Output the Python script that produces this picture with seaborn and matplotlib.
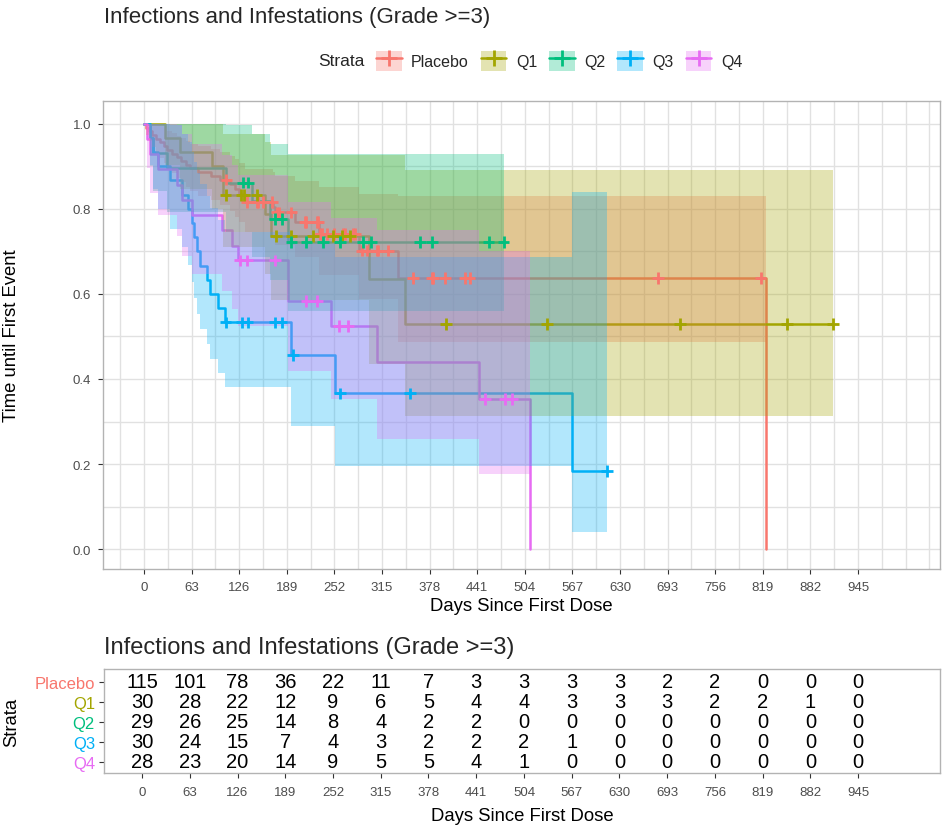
import numpy as np
import pandas as pd
import matplotlib
matplotlib.use("Agg")
import matplotlib.pyplot as plt
from matplotlib.patches import Patch
from matplotlib.lines import Line2D
from matplotlib.legend_handler import HandlerTuple
import seaborn as sns

nan = np.nan

strata = ["Placebo", "Q1", "Q2", "Q3", "Q4"]
strata_colors = ["#F8766D", "#A3A500", "#00BF7D", "#00B0F6", "#E76BF3"]

# Kaplan-Meier steps: start day of each level, survival level, 95% band, censored days
placebo_time = [0, 3, 7, 11, 16, 21, 26, 31, 37, 43, 49, 55, 61, 72, 88, 100,
                114, 120, 126, 133, 171, 174, 200, 231, 285, 336, 823]
placebo_surv = [1.0, .991, .983, .974, .965, .957, .948, .939, .930, .922, .913, .904,
                .896, .887, .878, .869, .858, .847, .836, .816, .804, .792, .770,
                .741, .702, .638, 0.0]
placebo_lower = [1.0, .974, .959, .945, .932, .920, .908, .896, .885, .874, .863, .852,
                 .842, .831, .821, .810, .796, .782, .769, .745, .730, .715, .686,
                 .645, .589, .488, nan]
placebo_upper = [1.0, 1.0, 1.0, 1.0, 1.0, .995, .990, .984, .978, .972, .966, .959,
                 .953, .947, .940, .933, .925, .917, .909, .894, .886, .877, .865,
                 .852, .836, .831, nan]
placebo_cens = [109, 136, 149, 151, 158, 169, 176, 178, 195, 213, 215, 229, 230,
                233, 235, 242, 251, 264, 266, 277, 279, 288, 295, 308, 310, 323,
                356, 381, 383, 398, 425, 431, 680, 816]

q1_time = [0, 28, 48, 90, 105, 160, 168, 298, 345]
q1_surv = [1.0, .967, .933, .900, .833, .787, .737, .635, .529]
q1_lower = [1.0, .903, .848, .799, .710, .648, .587, .435, .314]
q1_upper = [1.0, 1.0, 1.0, 1.0, .977, .957, .926, .927, .891]
q1_cens = [108, 129, 132, 149, 175, 195, 224, 250, 262, 273, 400, 533, 709, 851, 912]

q2_time = [0, 8, 12, 30, 108, 143, 167, 190]
q2_surv = [1.0, .966, .931, .897, .862, .819, .776, .722]
q2_lower = [1.0, .902, .843, .792, .745, .686, .632, .561]
q2_upper = [1.0, 1.0, 1.0, 1.0, .997, .977, .953, .929]
q2_cens = [131, 138, 173, 182, 195, 215, 237, 259, 290, 301, 365, 381, 456, 476]

q3_time = [0, 8, 12, 19, 34, 50, 58, 64, 66, 70, 74, 83, 87, 98, 107, 195, 253, 566]
q3_surv = [1.0, .967, .933, .900, .867, .833, .800, .767, .733, .700, .667, .633,
           .600, .567, .533, .457, .366, .183]
q3_lower = [1.0, .904, .848, .799, .753, .710, .669, .629, .591, .554, .518, .482,
            .448, .414, .381, .290, .195, .040]
q3_upper = [1.0, 1.0, 1.0, 1.0, .997, .977, .957, .934, .910, .885, .859, .831,
            .803, .775, .745, .717, .687, .840]
q3_cens = [108, 130, 137, 173, 182, 197, 259, 352, 613]

q4_time = [0, 4, 8, 19, 44, 50, 64, 103, 117, 125, 190, 248, 308, 444, 511]
q4_surv = [1.0, .964, .929, .893, .857, .821, .786, .750, .714, .679, .584, .525,
           .441, .353, 0.0]
q4_lower = [1.0, .897, .838, .786, .737, .690, .648, .606, .564, .524, .418, .354,
            .259, .177, nan]
q4_upper = [1.0, 1.0, 1.0, 1.0, .997, .976, .953, .928, .904, .880, .817, .779,
            .751, .700, nan]
q4_cens = [127, 136, 173, 215, 229, 258, 270, 451, 478, 487]

# Number at risk table
risk_days = [0, 63, 126, 189, 252, 315, 378, 441, 504, 567, 630, 693, 756, 819, 882, 945]
risk_placebo = [115, 101, 78, 36, 22, 11, 7, 3, 3, 3, 3, 2, 2, 0, 0, 0]
risk_q1 = [30, 28, 22, 12, 9, 6, 5, 4, 4, 3, 3, 3, 2, 2, 1, 0]
risk_q2 = [29, 26, 25, 14, 8, 4, 2, 2, 0, 0, 0, 0, 0, 0, 0, 0]
risk_q3 = [30, 24, 15, 7, 4, 3, 2, 2, 2, 1, 0, 0, 0, 0, 0, 0]
risk_q4 = [28, 23, 20, 14, 9, 5, 5, 4, 1, 0, 0, 0, 0, 0, 0, 0]

title_text = "Infections and Infestations (Grade >=3)"
x_title = "Days Since First Dose"
y_title = "Time until First Event"

groups = [
    ("Placebo", placebo_time, placebo_surv, placebo_lower, placebo_upper, placebo_cens),
    ("Q1", q1_time, q1_surv, q1_lower, q1_upper, q1_cens),
    ("Q2", q2_time, q2_surv, q2_lower, q2_upper, q2_cens),
    ("Q3", q3_time, q3_surv, q3_lower, q3_upper, q3_cens),
    ("Q4", q4_time, q4_surv, q4_lower, q4_upper, q4_cens),
]
risk_rows = [risk_placebo, risk_q1, risk_q2, risk_q3, risk_q4]

sns.set_theme(style="white")
plt.rcParams["font.family"] = ["Liberation Sans", "DejaVu Sans"]

W, H = 944, 829
fig = plt.figure(figsize=(W / 100, H / 100), dpi=100)

def px_box(left, top, right, bottom):
    return [left / W, 1 - bottom / H, (right - left) / W, (bottom - top) / H]

grid_col = "#E1E1E1"
border_col = "#B3B3B3"
tick_col = "#4D4D4D"

# ---------- survival curves ----------
ax = fig.add_axes(px_box(103, 102, 940, 570))
ax.set_xlim(-54.3, 1053.5)
ax.set_ylim(-0.047, 1.054)

line_records = []
cens_records = []
band_data = []
for name, t, s, lo, hi, cens in groups:
    t = np.asarray(t, float)
    s = np.asarray(s, float)
    lo = np.asarray(lo, float)
    hi = np.asarray(hi, float)
    end = max(t[-1], max(cens))
    for x, y in zip(np.append(t, end), np.append(s, s[-1])):
        line_records.append((name, x, y))
    idx = np.searchsorted(t, cens, side="right") - 1
    for c, y in zip(cens, s[idx]):
        cens_records.append((name, c, y))
    ok = ~np.isnan(lo)
    band_end = t[~ok][0] if (~ok).any() else end
    band_data.append((np.append(t[ok], band_end),
                      np.append(lo[ok], lo[ok][-1]),
                      np.append(hi[ok], hi[ok][-1])))

lines_df = pd.DataFrame(line_records, columns=["strata", "day", "surv"])
cens_df = pd.DataFrame(cens_records, columns=["strata", "day", "surv"])

sns.lineplot(data=lines_df, x="day", y="surv", hue="strata", hue_order=strata,
             palette=strata_colors, drawstyle="steps-post", estimator=None,
             sort=False, linewidth=1.8, legend=False, ax=ax, zorder=2)

for (bx, blo, bhi), col in zip(band_data, strata_colors):
    ax.fill_between(bx, blo, bhi, step="post", color=col, alpha=0.3,
                    linewidth=0, zorder=3)

sns.scatterplot(data=cens_df, x="day", y="surv", hue="strata", hue_order=strata,
                palette=strata_colors, marker="+", s=70, linewidth=2.0,
                legend=False, ax=ax, zorder=4)

major_x = np.arange(0, 946, 63)
ax.set_xticks(major_x)
ax.set_xticks(np.arange(-31.5, 1053, 31.5), minor=True)
ax.set_yticks(np.arange(0, 1.01, 0.2))
ax.set_yticks(np.arange(0.1, 1.0, 0.2), minor=True)
ax.set_yticklabels([f"{v:.1f}" for v in np.arange(0, 1.01, 0.2)])
ax.grid(which="both", color=grid_col, linewidth=1.0, zorder=0)
ax.set_axisbelow(True)
ax.tick_params(axis="both", which="major", length=3.5, width=0.8, color="#333333",
               labelsize=9.5, labelcolor=tick_col, pad=5, bottom=True, left=True)
ax.tick_params(axis="both", which="minor", length=0)
for sp in ax.spines.values():
    sp.set_color(border_col)
    sp.set_linewidth(1.0)
ax.set_xlabel(x_title, fontsize=13.3, labelpad=3, color="black")
ax.set_ylabel(y_title, fontsize=13.3, color="black")
ax.yaxis.set_label_coords((20 - 103) / 837, 0.5)

fig.text(104 / W, 1 - 18 / H, title_text, fontsize=16, ha="left", va="center")

# legend along the top
fig.text(341 / W, 1 - 62 / H, "Strata", fontsize=12.5, ha="center", va="center")
handles = [(Patch(facecolor=c, alpha=0.3, edgecolor="none"),
            Line2D([], [], color=c, lw=1.8, marker="+", ms=11, mew=2.0))
           for c in strata_colors]
fig.legend(handles, strata, handler_map={tuple: HandlerTuple(ndivide=1, pad=0)},
           loc="center left", bbox_to_anchor=(376 / W, 1 - 62 / H), ncol=5,
           frameon=False, fontsize=11.5, handlelength=1.6, handleheight=1.6,
           handletextpad=0.6, columnspacing=0.75, borderpad=0, borderaxespad=0)

# ---------- number at risk ----------
tax = fig.add_axes(px_box(104, 670, 940, 774))
tax.set_xlim(-50.2, 1053)
tax.set_ylim(4.55, -0.65)
for row, counts in enumerate(risk_rows):
    for d, n in zip(risk_days, counts):
        tax.text(d, row, str(n), ha="center", va="center", fontsize=14.5, color="black")
tax.set_xticks(risk_days)
tax.set_yticks(range(len(strata)))
tax.set_yticklabels(strata)
for lab, col in zip(tax.get_yticklabels(), strata_colors):
    lab.set_color(col)
tax.tick_params(axis="y", length=3.5, width=0.8, color="#333333", labelsize=12, pad=3, left=True)
tax.tick_params(axis="x", length=3.5, width=0.8, color="#333333", labelsize=9.5,
                labelcolor=tick_col, pad=6, bottom=True)
tax.grid(False)
for sp in tax.spines.values():
    sp.set_color(border_col)
    sp.set_linewidth(1.0)
tax.set_xlabel(x_title, fontsize=13.3, labelpad=6, color="black")
tax.set_ylabel("Strata", fontsize=13.3, color="black")
tax.yaxis.set_label_coords((20 - 104) / 836, 0.5)
fig.text(104 / W, 1 - 648 / H, title_text, fontsize=17, ha="left", va="center")

fig.savefig("out.png", dpi=100)
